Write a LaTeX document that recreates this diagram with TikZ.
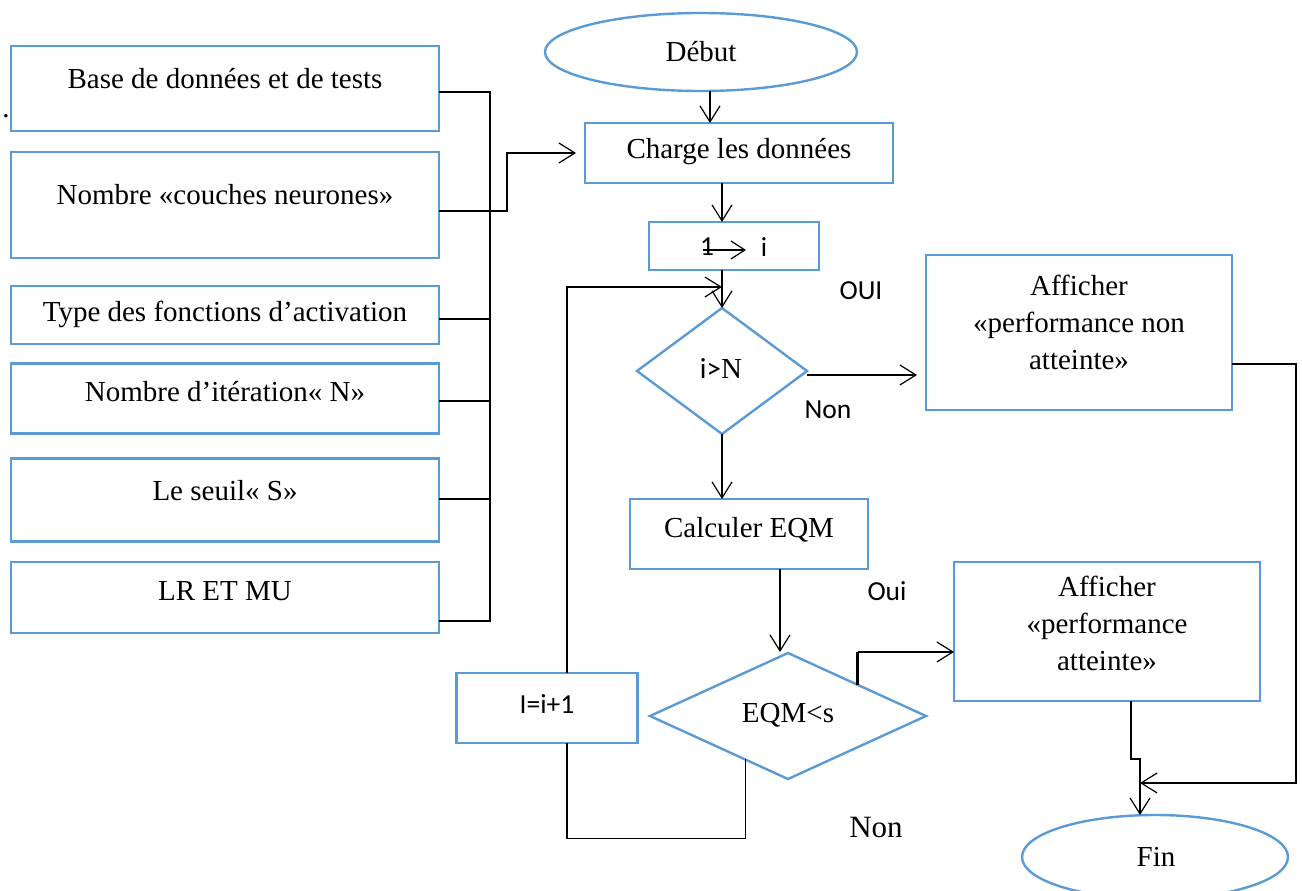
\documentclass[tikz,border=0pt]{standalone}
\usepackage{fontspec}
\setmainfont{Liberation Serif}
\newfontfamily\calfont{Carlito}
\usetikzlibrary{arrows.meta,calc,shapes.geometric}
\definecolor{bl}{RGB}{91,155,213}
\begin{document}
\begin{tikzpicture}[x=1pt,y=-1pt,
 box/.style={draw=bl,line width=2.4pt,rectangle,inner sep=0pt,outer sep=0pt},
 oval/.style={draw=bl,line width=2.4pt,ellipse,inner sep=0pt,outer sep=0pt},
 dia/.style={draw=bl,line width=2.4pt,diamond,inner sep=0pt,outer sep=0pt},
 serif/.style={font=\fontsize{29}{37}\selectfont,inner sep=0pt,align=center},
 sans/.style={font=\calfont\fontsize{27.5}{32}\selectfont,inner sep=0pt},
 conn/.style={draw=black,line width=1.2pt},
 arr/.style={conn,-{Straight Barb[length=16pt,width=20pt,line width=1.2pt]}},
]
\useasboundingbox (0,0) rectangle (1302,891);

% left input boxes
\node[box,minimum width=428,minimum height=85] (b1) at (225,88.5) {};
\node[serif] (t1) at (225,79) {Base de données et de tests};
\node[box,minimum width=428,minimum height=106] (b2) at (225,205) {};
\node[serif] (t2) at (225,195) {Nombre «couches neurones»};
\node[box,minimum width=428,minimum height=58] (b3) at (225,315) {};
\node[serif] (t3) at (225,314) {Type des fonctions d’activation};
\node[box,minimum width=428,minimum height=70] (b4) at (225,398.5) {};
\node[serif] (t4) at (225,392) {Nombre d’itération« N»};
\node[box,minimum width=428,minimum height=83] (b5) at (225,500) {};
\node[serif] (t5) at (225,491) {Le seuil« S»};
\node[box,minimum width=428,minimum height=71] (b6) at (225,597.5) {};
\node[serif] (t6) at (225,591) {LR ET MU};
\node[serif] (dot) at (6,116) {.};

% main flow
\node[oval,minimum width=312,minimum height=78] (debut) at (701,52) {};
\node[serif] (tdebut) at (701,52) {Début};
\node[box,minimum width=308,minimum height=60] (charge) at (739,153) {};
\node[serif] (tcharge) at (739,152) {Charge les données};
\node[box,minimum width=170,minimum height=48] (init) at (734,246) {};
\node[sans] (one) at (707,247) {1};
\node[sans] (ii) at (764,247) {i};
\node[dia,minimum width=170,minimum height=126] (d1) at (722,371) {};
\node[serif] (td1) at (721,369) {{\calfont i>}N};
\node[box,minimum width=306,minimum height=155] (afn) at (1079,332.5) {};
\node[serif] (tafn) at (1079,322) {Afficher\\«performance non\\atteinte»};
\node[box,minimum width=238,minimum height=70] (calc) at (749,534) {};
\node[serif] (tcalc) at (749,530) {Calculer EQM};
\node[dia,minimum width=276,minimum height=126] (d2) at (788,716) {};
\node[serif] (td2) at (788,715) {EQM<s};
\node[box,minimum width=306,minimum height=139] (afa) at (1107,631.5) {};
\node[serif] (tafa) at (1107,623) {Afficher\\«performance\\atteinte»};
\node[box,minimum width=181,minimum height=70] (inc) at (547,708) {};
\node[sans] (tinc) at (547,704) {I=i+1};
\node[oval,minimum width=266,minimum height=84] (fin) at (1155,857) {};
\node[serif] (tfin) at (1156,857) {Fin};

% labels
\node[sans] (oui1) at (861,291) {OUI};
\node[sans] (non1) at (828,410) {Non};
\node[sans] (oui2) at (887,591) {Oui};
\node[serif,font=\fontsize{31}{37}\selectfont] (non2) at (876,827) {Non};

% bus of inputs
\coordinate (bt) at (490,92);
\coordinate (bb) at (490,621);
\draw[conn] ($(b1.east)+(0,3.5)$) -- (bt) -- (bb) -- ($(b6.east)+(0,23.5)$);
\draw[conn] ($(b3.east)+(0,4)$) -- ++(51,0);
\draw[conn] ($(b4.east)+(0,2.5)$) -- ++(51,0);
\draw[conn] ($(b5.east)+(0,-1)$) -- ++(51,0);
\draw[arr,shorten >=9pt] ($(b2.east)+(0,6)$) -- ++(68,0) |- (charge.west);

% main arrows
\draw[arr] ($(debut.south)+(9,0)$) -- ($(charge.north west)+(125,0)$);
\draw[arr] ($(charge.south)+(-17,0)$) -- ($(init.north)+(-12,0)$);
\draw[conn,-{Straight Barb[length=14pt,width=18pt,line width=1.2pt]}] ($(one.center)+(-4,3)$) -- ++(43,0);
\draw[arr] ($(init.south)+(-12,0)$) -- (d1.north);
\draw[arr] ($(d1.east)+(0,4)$) -- ++(110,0);
\draw[arr] (d1.south) -- ($(calc.north)+(-27,0)$);
\draw[arr] ($(calc.south)+(31,0)$) -- ++(0,83);

% yes branch of EQM<s
\coordinate (ej) at ($(d2.north)!0.507!(d2.east)$);
\coordinate (ek) at ($(ej)+(0,-33)$);
\draw[draw=black,line width=3pt] (ej) -- (ek);
\draw[arr] (ek) -- (ek -| afa.west);

% loop
\coordinate (lp) at ($(d2.west)!0.69!(d2.south)$);
\coordinate (is) at ($(inc.south)+(20,0)$);
\coordinate (in) at ($(inc.north)+(20,0)$);
\draw[conn] (lp) -- ++(0,79) -| (is);
\draw[arr] (in) |- ($(init.south)+(-12,17)$);

% to Fin
\coordinate (fj) at (1140,783);
\draw[arr] ($(afn.east)+(0,31.5)$) -- ++(64,0) |- (fj);
\draw[arr] ($(afa.south)+(24,0)$) -- ++(0,58) -- ++(9,0) -- ($(fin.north)+(-15,0)$);
\end{tikzpicture}
\end{document}
